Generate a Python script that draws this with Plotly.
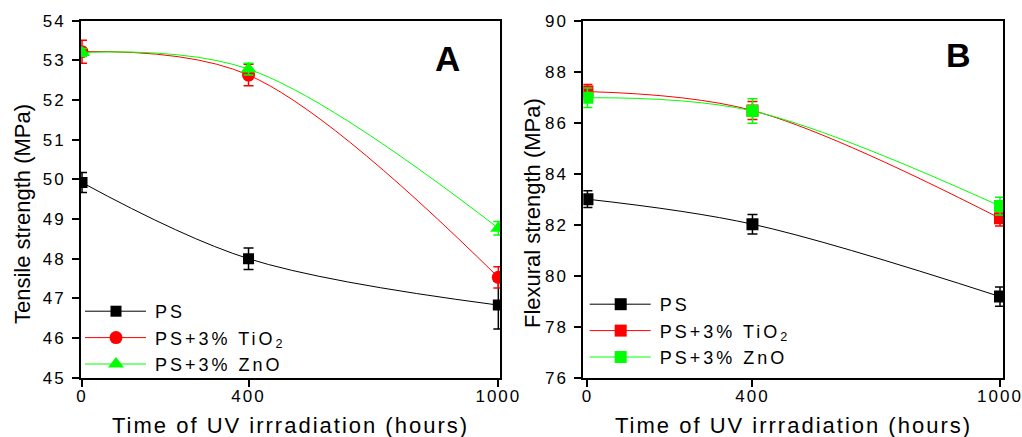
import plotly.graph_objects as go

# ---------------- data ----------------
hours = [0, 400, 1000]
series_names = ["PS", "PS+3% TiO<sub>2</sub>", "PS+3% ZnO"]
series_colors = ["#000000", "#ff0000", "#00ff00"]

tensile_ps = [49.92, 48.00, 46.83]
tensile_ps_err = [0.25, 0.27, 0.60]
tensile_tio2 = [53.22, 52.63, 47.53]
tensile_tio2_err = [0.29, 0.27, 0.27]
tensile_zno = [53.20, 52.78, 48.77]
tensile_zno_err = [0.10, 0.15, 0.17]

flex_ps = [83.00, 82.02, 79.18]
flex_ps_err = [0.33, 0.38, 0.38]
flex_tio2 = [87.22, 86.48, 82.25]
flex_tio2_err = [0.28, 0.35, 0.30]
flex_zno = [86.98, 86.46, 82.73]
flex_zno_err = [0.38, 0.48, 0.35]

x_ticks = [0, 400, 1000]
tensile_ticks = [45, 46, 47, 48, 49, 50, 51, 52, 53, 54]
flex_ticks = [76, 78, 80, 82, 84, 86, 88, 90]

FONT = "Arial, 'Liberation Sans', sans-serif"
W, H = 1022, 437

fig = go.Figure()

left_sets = [(tensile_ps, tensile_ps_err, "square", 11),
             (tensile_tio2, tensile_tio2_err, "circle", 13),
             (tensile_zno, tensile_zno_err, "triangle-up", 14)]
for (vals, errs, sym, size), name, col in zip(left_sets, series_names, series_colors):
    fig.add_trace(go.Scatter(
        x=hours, y=vals, name=name, mode="lines+markers",
        line=dict(color=col, width=1, shape="spline"),
        marker=dict(symbol=sym, size=size, color=col),
        error_y=dict(type="data", array=errs, color=col, thickness=1.5, width=5),
        xaxis="x", yaxis="y", legend="legend"))

right_sets = [(flex_ps, flex_ps_err), (flex_tio2, flex_tio2_err), (flex_zno, flex_zno_err)]
for (vals, errs), name, col in zip(right_sets, series_names, series_colors):
    fig.add_trace(go.Scatter(
        x=hours, y=vals, name=name, mode="lines+markers",
        line=dict(color=col, width=1, shape="spline"),
        marker=dict(symbol="square", size=12, color=col),
        error_y=dict(type="data", array=errs, color=col, thickness=1.5, width=5),
        xaxis="x2", yaxis="y2", legend="legend2"))

def px_x(p):
    return p / W

def px_y(p):
    return (H - p) / H

ydom = [px_y(377.7), px_y(20.7)]

axis_common = dict(
    showline=True, linecolor="black", linewidth=2,
    ticks="outside", ticklen=7, tickwidth=2, tickcolor="black",
    showgrid=False, zeroline=False, automargin=False,
    tickfont=dict(family=FONT, size=17, color="black"),
)

fig.update_layout(
    width=W, height=H,
    margin=dict(l=0, r=0, t=0, b=0, pad=0, autoexpand=False),
    paper_bgcolor="white", plot_bgcolor="white",
    font=dict(family=FONT, color="black"),
    xaxis=dict(domain=[px_x(81), px_x(500)], range=[-2.4, 1004], tickvals=x_ticks,
               anchor="y", mirror=True, ticklabelstandoff=-5, **axis_common),
    yaxis=dict(domain=ydom, range=[45, 54], tickvals=tensile_ticks,
               anchor="x", mirror=True, ticklabelstandoff=3, **axis_common),
    xaxis2=dict(domain=[px_x(583.3), px_x(1003.3)], range=[-10, 1008], tickvals=x_ticks,
                anchor="y2", mirror=True, ticklabelstandoff=-5, **axis_common),
    yaxis2=dict(domain=ydom, range=[76, 90], tickvals=flex_ticks,
                anchor="x2", mirror=True, ticklabelstandoff=3, **axis_common),
    yaxis3=dict(overlaying="y", side="right", anchor="x", range=[45, 54], tickvals=tensile_ticks,
                ticks="outside", ticklen=3, tickwidth=1.5, tickcolor="black", automargin=False,
                showticklabels=False, showline=False, showgrid=False, zeroline=False),
    yaxis4=dict(overlaying="y2", side="right", anchor="x2", range=[76, 90], tickvals=flex_ticks,
                ticks="outside", ticklen=3, tickwidth=1.5, tickcolor="black", automargin=False,
                showticklabels=False, showline=False, showgrid=False, zeroline=False),
    legend=dict(x=px_x(115), y=px_y(293), xanchor="left", yanchor="top",
                bgcolor="rgba(0,0,0,0)", borderwidth=0,
                font=dict(family=FONT, size=18, color="black"), tracegroupgap=0),
    legend2=dict(x=px_x(619.7), y=px_y(286), xanchor="left", yanchor="top",
                 bgcolor="rgba(0,0,0,0)", borderwidth=0,
                 font=dict(family=FONT, size=18, color="black"), tracegroupgap=0),
    showlegend=True,
)

annotations = [
    # 0,1: x titles
    dict(text="Time of UV irrradiation (hours)", x=px_x(290), y=px_y(425),
         font=dict(family=FONT, size=22, color="black")),
    dict(text="Time of UV irrradiation (hours)", x=px_x(793), y=px_y(425),
         font=dict(family=FONT, size=22, color="black")),
    # 2,3: y titles
    dict(text="Tensile strength (MPa)", x=px_x(22), y=px_y(214), textangle=-90,
         font=dict(family=FONT, size=22, color="black")),
    dict(text="Flexural strength (MPa)", x=px_x(532), y=px_y(213), textangle=-90,
         font=dict(family=FONT, size=22, color="black")),
    # 4,5: panel labels
    dict(text="<b>A</b>", x=px_x(447.5), y=px_y(58),
         font=dict(family=FONT, size=35, color="black")),
    dict(text="<b>B</b>", x=px_x(958), y=px_y(55),
         font=dict(family=FONT, size=34, color="black")),
]
for a in annotations:
    a.update(xref="paper", yref="paper", xanchor="center", yanchor="middle", showarrow=False)
fig.update_layout(annotations=annotations)

post = """
var css = [
  'text.legendtext, .legendtext, .infolayer [class^="legend"] text { letter-spacing: 3px !important; }',
  '.scrollbox { clip-path: none !important; }',
  '.legendlines path { d: path("M-30,0h61"); }',
  '.legendpoints .scatterpts { transform: translate(1px, 0px) !important; }',
  '.xtick text, .x2tick text, .ytick text, .y2tick text { letter-spacing: 2px; }',
  '.annotation[data-index="0"] text, .annotation[data-index="1"] text { letter-spacing: 2px; }'
].join('\\n');
var st = document.createElement('style');
st.textContent = css;
document.head.appendChild(st);
function fixLegends() {
  document.querySelectorAll('.legendtext').forEach(function(e){ e.style.letterSpacing = '3px'; });
}
fixLegends();
setTimeout(fixLegends, 50);
setTimeout(fixLegends, 300);
"""

fig.write_html("out.html", post_script=post, config={"displayModeBar": False})
